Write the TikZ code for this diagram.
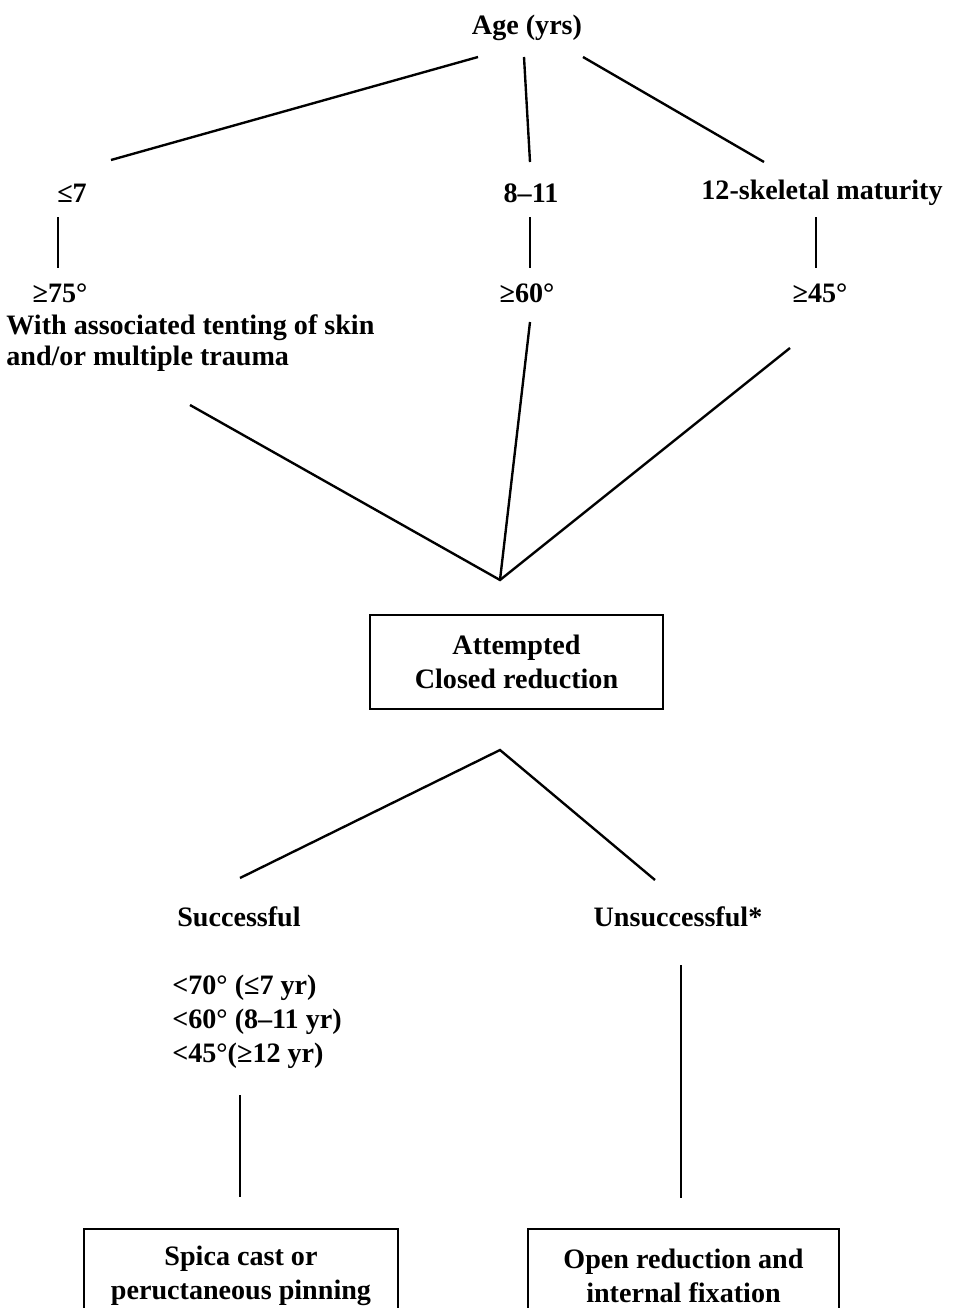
\documentclass[tikz,border=0pt]{standalone}
\usepackage{fontspec}
\setmainfont{Liberation Serif}
\usetikzlibrary{calc}

\begin{document}
\begin{tikzpicture}[x=0.02cm,y=-0.02cm,
  lbl/.style={font=\bfseries\fontsize{16}{19}\selectfont,inner sep=0pt,align=center},
  box/.style={lbl,draw,line width=1.1pt,minimum height=1.88cm,inner sep=0pt},
  edge/.style={line width=1.35pt},
  stem/.style={line width=1pt}]
  \clip (0,0) rectangle (974,1308);
  % age groups
  \node[lbl] (age) at (527,28) {Age (yrs)};
  \node[lbl] (le7) at (72,193) {≤7};
  \node[lbl] (mid) at (531,193) {8–11};
  \node[lbl] (old) at (822,193) {12-skeletal maturity};
  % angle thresholds
  \node[lbl] (d75) at (60,293) {≥75°};
  \node[lbl,anchor=west,align=left,font=\bfseries\fontsize{16}{17.6}\selectfont] (tent) at (6,343)
    {With associated tenting of skin\\and/or multiple trauma};
  \node[lbl] (d60) at (527,293) {≥60°};
  \node[lbl] (d45) at (820,293) {≥45°};
  \node[box,minimum width=5.86cm] (acr) at (516.5,662) {Attempted\\Closed reduction};
  % outcome
  \node[lbl] (ok) at (239,917) {Successful};
  \node[lbl] (nok) at (678,917) {Unsuccessful*};
  \node[lbl,anchor=west,align=left,font=\bfseries\fontsize{16}{19.3}\selectfont] (crit) at (172,1022)
    {<70° (≤7 yr)\\<60° (8–11 yr)\\<45°(≥12 yr)};
  \node[box,minimum width=6.28cm,anchor=north] (spica) at (241,1228) {Spica cast or\\peructaneous pinning};
  \node[box,minimum width=6.22cm,anchor=north] (orif) at (683.5,1228) {Open reduction and\\internal fixation};

  % end points of the connectors
  \coordinate (ageL) at (478,57);  \coordinate (le7T) at (111,160);
  \coordinate (ageM) at (524,57);  \coordinate (midT) at (530,162);
  \coordinate (ageR) at (583,57);  \coordinate (oldT) at (764,162);
  \coordinate (le7B) at (58,217);  \coordinate (d75T) at (58,268);
  \coordinate (midB) at (530,217); \coordinate (d60T) at (530,268);
  \coordinate (oldB) at (816,217); \coordinate (d45T) at (816,268);
  \coordinate (tentB) at (190,405);
  \coordinate (d60B) at (530,322);
  \coordinate (d45B) at (790,348);
  \coordinate (join) at (500,580);
  \coordinate (apex) at (500,750);
  \coordinate (okT) at (240,878);
  \coordinate (nokT) at (655,880);
  \coordinate (critB) at (240,1095); \coordinate (spicaT) at (240,1197);
  \coordinate (nokB) at (681,965);   \coordinate (orifT) at (681,1198);

  \draw[edge] (ageL) -- (le7T);
  \draw[edge] (ageM) -- (midT);
  \draw[edge] (ageR) -- (oldT);
  \draw[stem] (le7B) -- (d75T);
  \draw[stem] (midB) -- (d60T);
  \draw[stem] (oldB) -- (d45T);
  \draw[edge] (tentB) -- (join) -- (d45B);
  \draw[edge] (d60B) -- (join);
  \draw[edge] (okT) -- (apex) -- (nokT);
  \draw[stem] (critB) -- (spicaT);
  \draw[stem] (nokB) -- (orifT);
\end{tikzpicture}
\end{document}
